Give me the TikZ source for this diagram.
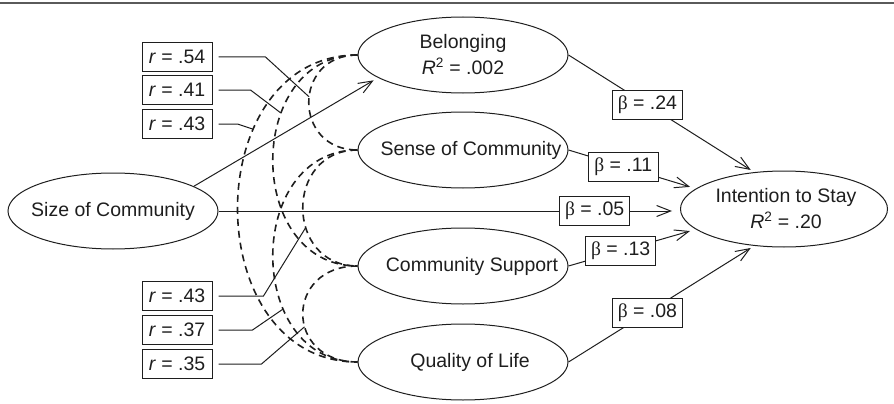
\documentclass[tikz,border=0pt]{standalone}
\usepackage{fontspec}
\setmainfont{Liberation Sans}
\newfontfamily\grk{Liberation Serif}
\usetikzlibrary{arrows.meta,shapes.geometric}
\definecolor{ink}{HTML}{1E1E1E}
\definecolor{rulec}{HTML}{5A5A5A}
\newcommand{\bet}{{\grk β}}
\tikzset{
  every node/.style={font=\fontsize{19.5}{26}\selectfont, text=ink},
  lat/.style ={ellipse, draw=ink, line width=1pt, minimum width=210pt,
               minimum height=76pt, inner sep=0pt},
  txt/.style ={align=center, inner sep=0pt},
  coef/.style={draw=ink, fill=white, line width=1pt, minimum width=70pt,
               minimum height=29pt, inner sep=0pt},
  corr/.style={coef},
  ar/.style  ={-{Straight Barb[length=14pt,width=11pt]}, line width=1pt, draw=ink},
  cov/.style ={draw=ink, line width=1.6pt, dash pattern=on 7pt off 5pt},
  bow/.style ={out=180, in=180, distance=#1},
  lnk/.style ={draw=ink, line width=1pt, shorten <=6pt},
}

\begin{document}
\begin{tikzpicture}[x=1pt, y=-1pt]
\useasboundingbox (0,0) rectangle (894,404);
\draw[rulec, line width=1.5pt] (0,3) -- (894,3);

% ============ latent variables ==============================================
\node[lat, label={[txt]center:Size of Community}] (size) at (113,211) {};
\node[lat, label={[txt]center:Belonging\\\textit{R}\textsuperscript{2} = .002}] (bel) at (463,55) {};
\node[lat, label={[txt,xshift=8pt]center:Sense of Community}] (scm) at (463,150) {};
\node[lat, label={[txt,xshift=9pt]center:Community Support}] (csup) at (463,266) {};
\node[lat, label={[txt,xshift=7pt]center:Quality of Life}] (qol) at (463,362) {};
\node[lat, minimum width=207pt, label={[txt,xshift=2pt]center:Intention to Stay\\\textit{R}\textsuperscript{2} = .20}] (its) at (784,209) {};

% ============ correlations among mediators ==================================
\draw[cov] (bel.west) to[bow=65pt] node[coordinate, pos=0.46] (k54) {} (scm.west);
\draw[cov] (bel.west) to[bow=113pt] node[coordinate, pos=0.345] (k41) {} (csup.west);
\draw[cov] (bel.west) to[bow=160pt] node[coordinate, pos=0.32] (k43a) {} (qol.west);
\draw[cov] (scm.west) to[bow=73pt] node[coordinate, pos=0.615] (k43b) {} (csup.west);
\draw[cov] (scm.west) to[bow=113pt] node[coordinate, pos=0.674] (k37) {} (qol.west);
\draw[cov] (csup.west) to[bow=73pt] node[coordinate, pos=0.59] (k35) {} (qol.west);

\node[corr] (r54) at (177,57) {\textit{r} = .54};
\node[corr] (r41) at (177,90) {\textit{r} = .41};
\node[corr] (r43a) at (177,124) {\textit{r} = .43};
\node[corr] (r43b) at (177,296) {\textit{r} = .43};
\node[corr] (r37) at (177,330) {\textit{r} = .37};
\node[corr] (r35) at (177,364) {\textit{r} = .35};
\draw[lnk] (r54.east) -- ++(53,0) -- (k54);
\draw[lnk] (r41.east) -- ++(38,0) -- (k41);
\draw[lnk] (r43a.east) -- ++(25,0) -- (k43a);
\draw[lnk] (r43b.east) -- ++(51,0) -- (k43b);
\draw[lnk] (r37.east) -- ++(40,0) -- (k37);
\draw[lnk] (r35.east) -- ++(49,0) -- (k35);

% ============ structural paths ==============================================
\draw[ar, shorten >=5pt] (size.17) -- (bel.195);
\draw[ar, shorten >=8pt] (size.east) -- node[coef, pos=0.815] (b05) {\bet{} = .05} (size.east -| its.west);
\draw[ar, shorten >=4pt] (bel.east) -- node[coef, pos=0.425] (b24) {\bet{} = .24} (its.129);
\draw[ar, shorten >=6pt] (scm.east) -- node[coef, pos=0.43] (b11) {\bet{} = .11} (its.167);
\draw[ar, shorten >=6pt] (csup.east) -- node[coef, pos=0.41] (b13) {\bet{} = .13} (its.193);
\draw[ar, shorten >=4pt] (qol.east) -- node[coef, pos=0.425] (b08) {\bet{} = .08} (its.231);

\end{tikzpicture}
\end{document}
